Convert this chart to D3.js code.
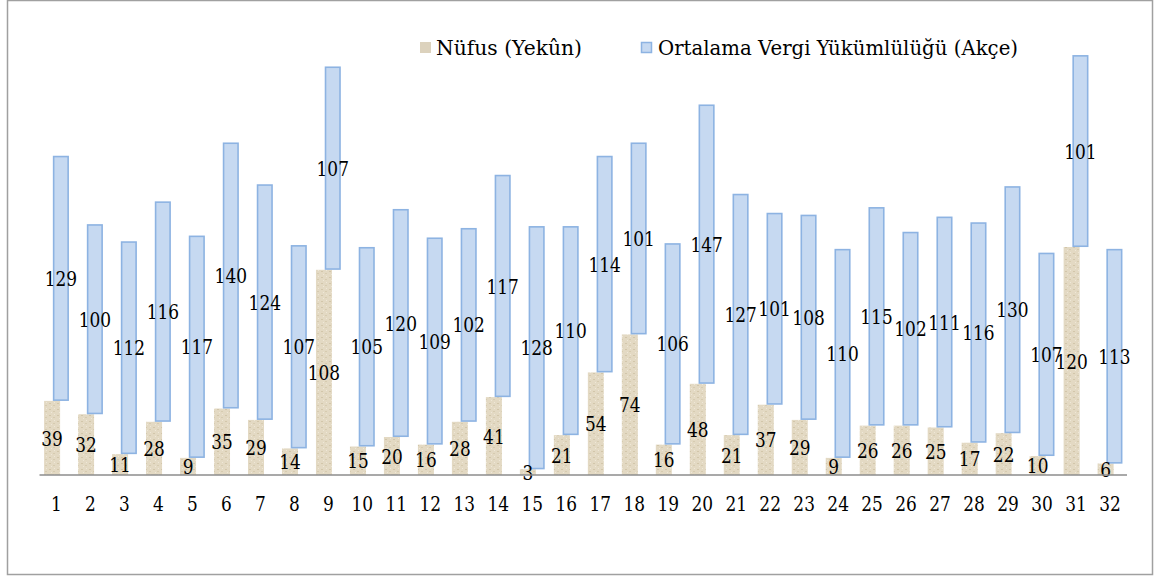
<!DOCTYPE html>
<html>
<head>
<meta charset="utf-8"/>
<script src="https://d3js.org/d3.v7.min.js"></script>
<style type="text/css">
body {
  margin: 0;
  overflow: hidden;
  background: #fff;
}
svg text {
  font-family: 'DejaVu Serif', serif;
  fill: #000;
}
</style>
</head>
<body>
<div id="v"></div>
<script type="text/javascript">
// data
var categories = d3.range(1, 33).map(String);
var nufus = [39, 32, 11, 28, 9, 35, 29, 14, 108, 15, 20, 16, 28, 41, 3, 21,
             54, 74, 16, 48, 21, 37, 29, 9, 26, 26, 25, 17, 22, 10, 120, 6];
var vergi = [129, 100, 112, 116, 117, 140, 124, 107, 107, 105, 120, 109, 102, 117, 128, 110,
             114, 101, 106, 147, 127, 101, 108, 110, 115, 102, 111, 116, 130, 107, 101, 113];
var seriesNames = ["Nüfus (Yekûn)", "Ortalama Vergi Yükümlülüğü (Akçe)"];

var width = 1155, height = 579;
var beige = "#e3d9c3", blueFill = "#c6d9f1", blueLine = "#8db3e2";
var fs = 21, digitW = 10.8;   // only a wide serif is installed, so squeeze it to Times widths

var svg = d3.select("#v").append("svg")
  .attr("width", width)
  .attr("height", height);

// sandy texture for the population bars
var pat = svg.append("defs").append("pattern")
  .attr("id", "sand")
  .attr("patternUnits", "userSpaceOnUse")
  .attr("width", 8).attr("height", 6);
pat.append("rect").attr("width", 8).attr("height", 6).attr("fill", beige);
pat.append("rect").attr("x", 1).attr("y", 1).attr("width", 2).attr("height", 1).attr("fill", "#d2c6aa");
pat.append("rect").attr("x", 5).attr("y", 3).attr("width", 2).attr("height", 1).attr("fill", "#d6cbb0");
pat.append("rect").attr("x", 3).attr("y", 4).attr("width", 1).attr("height", 1).attr("fill", "#efe8d8");
pat.append("rect").attr("x", 6).attr("y", 0).attr("width", 1).attr("height", 1).attr("fill", "#efe8d8");

// outer frame
svg.append("rect")
  .attr("x", 7.5).attr("y", 0.5)
  .attr("width", 1145).attr("height", 574)
  .attr("fill", "none")
  .attr("stroke", "#a0a0a0")
  .attr("stroke-width", 1.5);

var x = d3.scaleBand().domain(categories).range([39.5, 1127]);
var y = d3.scaleLinear().domain([0, 250]).range([475, 0]);
var barW = 16, shift = 4.4;

function squeeze(sel) {
  sel.attr("textLength", function(d) { return String(d).length * digitW; })
    .attr("lengthAdjust", "spacingAndGlyphs");
}

var g = svg.append("g");

// population bars (bottom)
g.selectAll(".nufus")
  .data(nufus).enter()
  .append("rect")
  .attr("class", "nufus")
  .attr("x", function(d, i) { return x(categories[i]) + x.bandwidth() / 2 - shift - barW / 2; })
  .attr("y", function(d) { return y(d); })
  .attr("width", barW)
  .attr("height", function(d) { return y(0) - y(d); })
  .attr("fill", "url(#sand)");

// tax bars (stacked on top)
g.selectAll(".vergi")
  .data(vergi).enter()
  .append("rect")
  .attr("class", "vergi")
  .attr("x", function(d, i) { return x(categories[i]) + x.bandwidth() / 2 + shift - barW / 2 + 0.75; })
  .attr("y", function(d, i) { return y(nufus[i] + d) + 0.75; })
  .attr("width", barW - 1.5)
  .attr("height", function(d, i) { return y(nufus[i]) - y(nufus[i] + d) - 1.5; })
  .attr("fill", blueFill)
  .attr("stroke", blueLine)
  .attr("stroke-width", 1.6);

// axis
var axis = svg.append("g")
  .attr("transform", "translate(0," + y(0) + ")")
  .call(d3.axisBottom(x).tickSize(0).tickPadding(21));
axis.attr("font-family", null);
axis.select(".domain").attr("stroke", "#8c8c8c").attr("stroke-width", 1.5)
  .attr("d", "M39.5,0H1127");
axis.selectAll("text")
  .attr("font-size", fs)
  .call(squeeze);

// value labels
g.selectAll(".nlab")
  .data(nufus).enter()
  .append("text")
  .attr("x", function(d, i) { return x(categories[i]) + x.bandwidth() / 2 - shift; })
  .attr("y", function(d) { return (y(0) + y(d)) / 2; })
  .attr("dy", "0.36em")
  .attr("text-anchor", "middle")
  .attr("font-size", fs)
  .text(function(d) { return d; })
  .call(squeeze);

g.selectAll(".vlab")
  .data(vergi).enter()
  .append("text")
  .attr("x", function(d, i) { return x(categories[i]) + x.bandwidth() / 2 + shift; })
  .attr("y", function(d, i) { return (y(nufus[i]) + y(nufus[i] + d)) / 2; })
  .attr("dy", "0.36em")
  .attr("text-anchor", "middle")
  .attr("font-size", fs)
  .text(function(d) { return d; })
  .call(squeeze);

// legend
var leg = svg.append("g");
leg.append("rect").attr("x", 420).attr("y", 42).attr("width", 11).attr("height", 11)
  .attr("fill", "#dcd2bd");
leg.append("text").attr("x", 436).attr("y", 55).attr("font-size", fs)
  .attr("textLength", 146).attr("lengthAdjust", "spacingAndGlyphs")
  .text(seriesNames[0]);
leg.append("rect").attr("x", 641.5).attr("y", 42.5).attr("width", 10).attr("height", 10)
  .attr("fill", blueFill).attr("stroke", blueLine).attr("stroke-width", 1.5);
leg.append("text").attr("x", 658).attr("y", 55).attr("font-size", fs)
  .attr("textLength", 360).attr("lengthAdjust", "spacingAndGlyphs")
  .text(seriesNames[1]);
</script>
</body>
</html>
